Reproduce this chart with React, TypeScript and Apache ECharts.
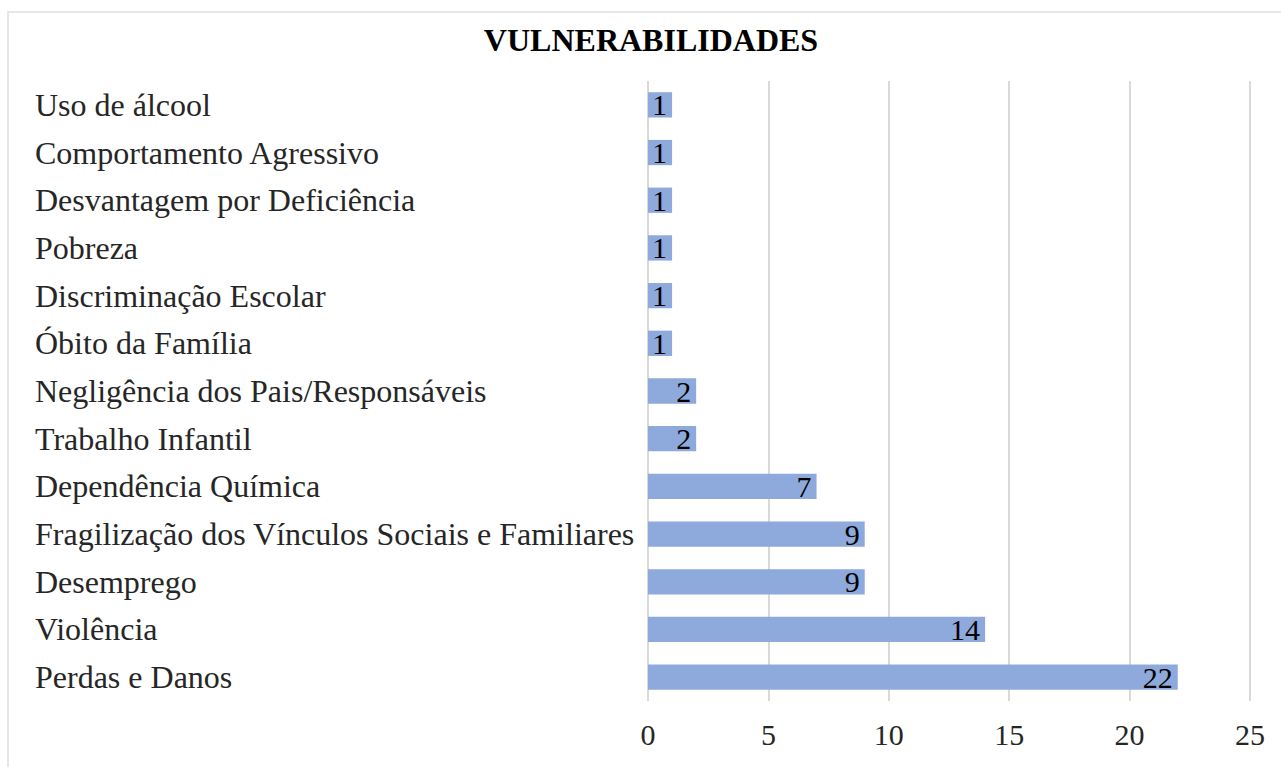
import React, { useEffect, useRef } from "react";
import * as echarts from "echarts";

const categories = [
  "Uso de álcool",
  "Comportamento Agressivo",
  "Desvantagem por Deficiência",
  "Pobreza",
  "Discriminação Escolar",
  "Óbito da Família",
  "Negligência dos Pais/Responsáveis",
  "Trabalho Infantil",
  "Dependência Química",
  "Fragilização dos Vínculos Sociais e Familiares",
  "Desemprego",
  "Violência",
  "Perdas e Danos",
];
const values = [1, 1, 1, 1, 1, 1, 2, 2, 7, 9, 9, 14, 22];
const titleText = "VULNERABILIDADES";

const FONT = "'Liberation Serif', 'Times New Roman', serif";

export default function App() {
  const ref = useRef<HTMLDivElement>(null);
  useEffect(() => {
    if (!ref.current) return;
    const chart = echarts.init(ref.current, null, { renderer: "svg" });
    chart.setOption({
      animation: false,
      backgroundColor: "#ffffff",
      title: {
        text: titleText,
        left: 646,
        textAlign: "center",
        top: 19,
        textStyle: { fontFamily: FONT, fontWeight: "bold", fontSize: 32, color: "#000" },
      },
      graphic: [
        {
          type: "rect",
          shape: { x: 8, y: 12, width: 1300, height: 800 },
          style: { fill: "none", stroke: "#e6e6e6", lineWidth: 2 },
          silent: true,
        },
      ],
      grid: { left: 648, right: 31, top: 81, bottom: 66 },
      xAxis: {
        type: "value",
        min: 0,
        max: 25,
        interval: 5,
        axisLine: { show: false },
        axisTick: { show: false },
        splitLine: { show: true, lineStyle: { color: "#d9d9d9", width: 2 } },
        axisLabel: { fontFamily: FONT, fontSize: 30, color: "#262626", margin: 18 },
      },
      yAxis: {
        type: "category",
        data: categories,
        inverse: true,
        axisLine: { show: false },
        axisTick: { show: false },
        axisLabel: {
          fontFamily: FONT,
          fontSize: 32,
          color: "#262626",
          align: "left",
          margin: 613,
        },
      },
      series: [
        {
          type: "bar",
          data: values,
          barWidth: "53%",
          itemStyle: { color: "#8EA9DB" },
          label: {
            show: true,
            position: "insideRight",
            distance: 5,
            fontFamily: FONT,
            fontSize: 30,
            color: "#000",
          },
        },
      ],
    });
    return () => chart.dispose();
  }, []);
  return (
    <div
      ref={ref}
      style={{ position: "fixed", left: 0, top: 0, width: 1281, height: 767 }}
    />
  );
}
